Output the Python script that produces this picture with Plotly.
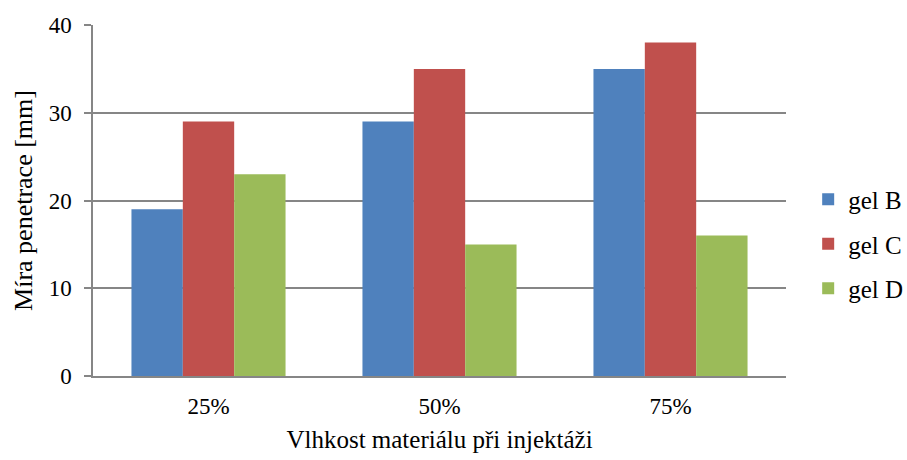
import plotly.graph_objects as go

categories = ["25%", "50%", "75%"]
gel_b = [19, 29, 35]
gel_c = [29, 35, 38]
gel_d = [23, 15, 16]
series_names = ["gel B", "gel C", "gel D"]
colors = ["#4F81BD", "#C0504D", "#9BBB59"]

FONT = "Times New Roman, Liberation Serif, serif"
TICK_FS = 23
TITLE_FS = 25
LEGEND_FS = 25

fig = go.Figure()
for name, vals, col in zip(series_names, [gel_b, gel_c, gel_d], colors):
    fig.add_trace(go.Bar(
        x=categories, y=vals, name=name,
        marker=dict(color=col, line=dict(width=0)),
        legendgroup=name,
    ))

fig.update_layout(
    width=907, height=460,
    margin=dict(l=93, r=121, t=25, b=84, autoexpand=False),
    paper_bgcolor="white", plot_bgcolor="white",
    barmode="group", bargap=0.333, bargroupgap=0,
    font=dict(family=FONT, size=TICK_FS, color="black"),
    legend=dict(
        x=1.032, y=0.376, xanchor="left", yanchor="middle",
        font=dict(family=FONT, size=LEGEND_FS),
        tracegroupgap=9, itemwidth=30,
    ),
    xaxis=dict(
        title=dict(text="Vlhkost materiálu při injektáži", font=dict(family=FONT, size=TITLE_FS), standoff=12),
        showline=True, linecolor="#868686", linewidth=1.5,
        ticks="", tickfont=dict(family=FONT, size=TICK_FS),
        ticklabelstandoff=9,
        showgrid=False,
    ),
    yaxis=dict(
        title=dict(text="Míra penetrace [mm]", font=dict(family=FONT, size=26), standoff=9),
        range=[0, 40], dtick=10,
        showline=True, linecolor="#868686", linewidth=1.5,
        showgrid=True, gridcolor="#868686", gridwidth=1.5,
        ticks="outside", ticklen=7, tickcolor="#868686", tickwidth=1.5,
        tickfont=dict(family=FONT, size=TICK_FS),
        ticklabelstandoff=8,
        zeroline=False,
    ),
)

fig.write_html("out.html")
